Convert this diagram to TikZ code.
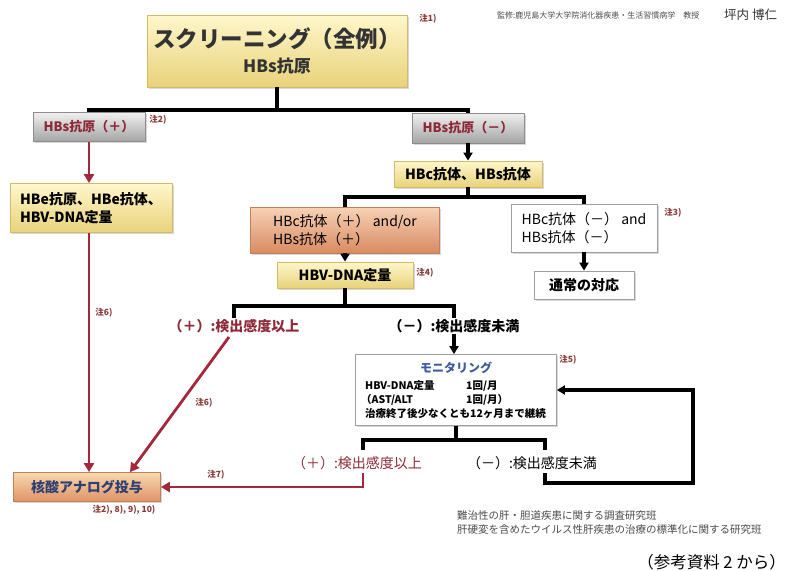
\documentclass[tikz,border=0pt]{standalone}
\usepackage{fontspec}
\setmainfont{Noto Sans CJK JP}
\usetikzlibrary{arrows.meta,shadows,calc}
\definecolor{ytop}{HTML}{FFF7CC}
\definecolor{ybot}{HTML}{E8D27A}
\definecolor{ybord}{HTML}{D2BC6A}
\definecolor{gtop}{HTML}{F0F0F0}
\definecolor{gbot}{HTML}{A4A4A4}
\definecolor{gbord}{HTML}{8C8C8C}
\definecolor{stop}{HTML}{F7D2B6}
\definecolor{sbot}{HTML}{D98A62}
\definecolor{sbord}{HTML}{C0805E}
\definecolor{ktop}{HTML}{F9D8AE}
\definecolor{kbot}{HTML}{DF9366}
\definecolor{redtxt}{HTML}{8E2A38}
\definecolor{redline}{HTML}{A3283A}
\definecolor{kakcol}{HTML}{2E3F73}
\definecolor{moncol}{HTML}{3C5C9C}
\definecolor{notecol}{HTML}{8A3A3A}
\begin{document}
\begin{tikzpicture}[x=1pt,y=-1pt,
  box/.style={draw, line width=0.8pt, inner sep=0pt,
    drop shadow={opacity=0.3, shadow xshift=1.5pt, shadow yshift=-1.5pt}},
  ybox/.style={box, draw=ybord, top color=ytop, bottom color=ybot},
  gbox/.style={box, draw=gbord, top color=gtop, bottom color=gbot},
  sbox/.style={box, draw=sbord, top color=stop, bottom color=sbot},
  kbox/.style={box, draw=sbord, top color=ktop, bottom color=kbot},
  wbox/.style={box, draw=gray!75, fill=white},
  jt/.style={font=\bfseries\fontsize{14}{18}\selectfont},
  jr/.style={font=\fontsize{14}{18}\selectfont},
  note/.style={font=\bfseries\fontsize{8.5}{10}\selectfont, text=notecol, inner sep=0pt},
  bl/.style={line width=3.2pt, line join=miter},
  barr/.style={bl, -{Triangle[length=8pt,width=9pt]}},
  rl/.style={draw=redline, line width=2.8pt, line join=miter},
  rarr/.style={rl, -{Triangle[length=9pt,width=10pt]}}]
\useasboundingbox[fill=white] (0,0) rectangle (786,570);

% header
\node[anchor=west, font=\fontsize{8}{9}\selectfont, text=gray!60!black, inner sep=0pt] (sup1) at (497,15) {監修:鹿児島大学大学院消化器疾患・生活習慣病学　教授};
\node[anchor=west, font=\fontsize{12.5}{14}\selectfont, text=gray!40!black, inner sep=0pt] (sup2) at (724,15) {坪内 博仁};

% boxes
\node[ybox, minimum width=260pt, minimum height=72pt, align=center, text=black!80] (title) at (277,51)
  {{\bfseries\fontsize{22.5}{26}\selectfont スクリーニング（全例）}\\[8pt]{\bfseries\fontsize{17}{20}\selectfont HBs抗原}};
\node[gbox, minimum width=112pt, minimum height=29pt, text=redtxt, font=\bfseries\fontsize{13}{16}\selectfont] (hbsp) at (89,127) {HBs抗原（＋）};
\node[gbox, minimum width=112pt, minimum height=30pt, text=redtxt, font=\bfseries\fontsize{13}{16}\selectfont] (hbsm) at (468,128) {HBs抗原（－）};
\node[ybox, minimum width=162pt, minimum height=49pt, align=left, jt] (hbe) at (91,208) {HBe抗原、HBe抗体、\\HBV-DNA定量};
\node[ybox, minimum width=148pt, minimum height=26pt, jt] (hbc) at (468,174) {HBc抗体、HBs抗体};
\node[sbox, minimum width=189pt, minimum height=46pt, align=left, jr] (cpos) at (345,230) {HBc抗体（＋） and/or\\HBs抗体（＋）};
\node[wbox, minimum width=146pt, minimum height=48pt, align=left, jr] (cneg) at (584,228) {HBc抗体（－） and\\HBs抗体（－）};
\node[wbox, minimum width=100pt, minimum height=28pt, jt] (normal) at (584,285) {通常の対応};
\node[ybox, minimum width=136pt, minimum height=26pt, jt] (dna) at (345,275) {HBV-DNA定量};
\node[jt, text=redtxt, inner sep=1pt] (lposA) at (234,326) {（＋）:検出感度以上};
\node[jt, inner sep=1pt] (lnegA) at (454,326) {（－）:検出感度未満};
\node[wbox, minimum width=201pt, minimum height=71pt] (mon) at (456,390) {};
\node[font=\bfseries\fontsize{12}{14}\selectfont, text=moncol] (montitle) at (456,368) {モニタリング};
\node[anchor=west, inner sep=0pt, font=\bfseries\fontsize{10.5}{12}\selectfont] (m1) at (365,386) {HBV-DNA定量};
\node[anchor=west, inner sep=0pt, font=\bfseries\fontsize{10.5}{12}\selectfont] (m1b) at (466,386) {1回/月};
\node[anchor=west, inner sep=0pt, font=\bfseries\fontsize{10.5}{12}\selectfont] (m2) at (361,400) {（AST/ALT};
\node[anchor=west, inner sep=0pt, font=\bfseries\fontsize{10.5}{12}\selectfont] (m2b) at (466,400) {1回/月）};
\node[anchor=west, inner sep=0pt, font=\bfseries\fontsize{10.5}{12}\selectfont] (m3) at (365,414) {治療終了後少なくとも12ヶ月まで継続};
\node[jr, text=redtxt, inner sep=1pt] (lposB) at (357,463) {（＋）:検出感度以上};
\node[jr, inner sep=1pt] (lnegB) at (532,463) {（－）:検出感度未満};
\node[kbox, minimum width=147pt, minimum height=29pt, jt, text=kakcol] (kak) at (87,487) {核酸アナログ投与};

% notes
\node[note] (n1) at (428,19) {注1)};
\node[note] (n2) at (158,120) {注2)};
\node[note] (n3) at (673,213) {注3)};
\node[note] (n4) at (425,273) {注4)};
\node[note] (n5) at (568,360) {注5)};
\node[note] (n6a) at (104,313) {注6)};
\node[note] (n6b) at (204,403) {注6)};
\node[note] (n7) at (216,475) {注7)};
\node[note] (n8) at (124,510) {注2), 8), 9), 10)};

% bottom texts
\node[anchor=west, inner sep=0pt, font=\fontsize{10.5}{12}\selectfont, text=gray!60!black] (ref1) at (457,516) {難治性の肝・胆道疾患に関する調査研究班};
\node[anchor=west, inner sep=0pt, font=\fontsize{10.5}{12}\selectfont, text=gray!60!black] (ref2) at (457,529) {肝硬変を含めたウイルス性肝疾患の治療の標準化に関する研究班};
\node[anchor=east, inner sep=0pt, font=\fontsize{16.5}{18}\selectfont] (src) at (786,562) {（参考資料 2 から）};

% connectors
\coordinate (j1) at (277,110);
\draw[bl] (title.south) -- (j1);
\draw[bl] (hbsp.north) |- (j1) -| (hbsm.north);
\draw[rarr] (hbsp.south) -- (hbsp.south |- hbe.north);
\draw[rarr] (hbe.south -| hbsp.south) -- (hbsp.south |- kak.north);
\draw[barr] (hbsm.south) -- (hbc.north);
\coordinate (j2) at (468,197);
\draw[bl] (hbc.south) -- (j2);
\draw[bl] (cpos.north) |- (j2) -| (cneg.north);
\draw[barr] (cneg.south) -- (normal.north);
\draw[barr] (cpos.south) -- (dna.north);
\coordinate (j3) at (345,306);
\draw[bl] (dna.south) -- (j3);
\draw[bl] (lposA.north) |- (j3) -| (lnegA.north);
\draw[barr] (lnegA.south) -- (lnegA.south |- mon.north);
\draw[rarr] ($(lposA.south)+(-5,3)$) -- ($(kak.north)+(43,0)$);
\coordinate (j4) at (456,440);
\draw[bl] (mon.south) -- (j4);
\coordinate (b1) at (363,450);
\coordinate (b2) at (545,450);
\draw[bl] (b1) |- (j4) -| (b2);
\coordinate (b3) at (363,473);
\draw[rarr] (b3) |- (kak.east);
\coordinate (b4) at (545,473);
\coordinate (c5) at (693,483);
\draw[barr] (b4) |- (c5) |- (mon.east);
\end{tikzpicture}
\end{document}
